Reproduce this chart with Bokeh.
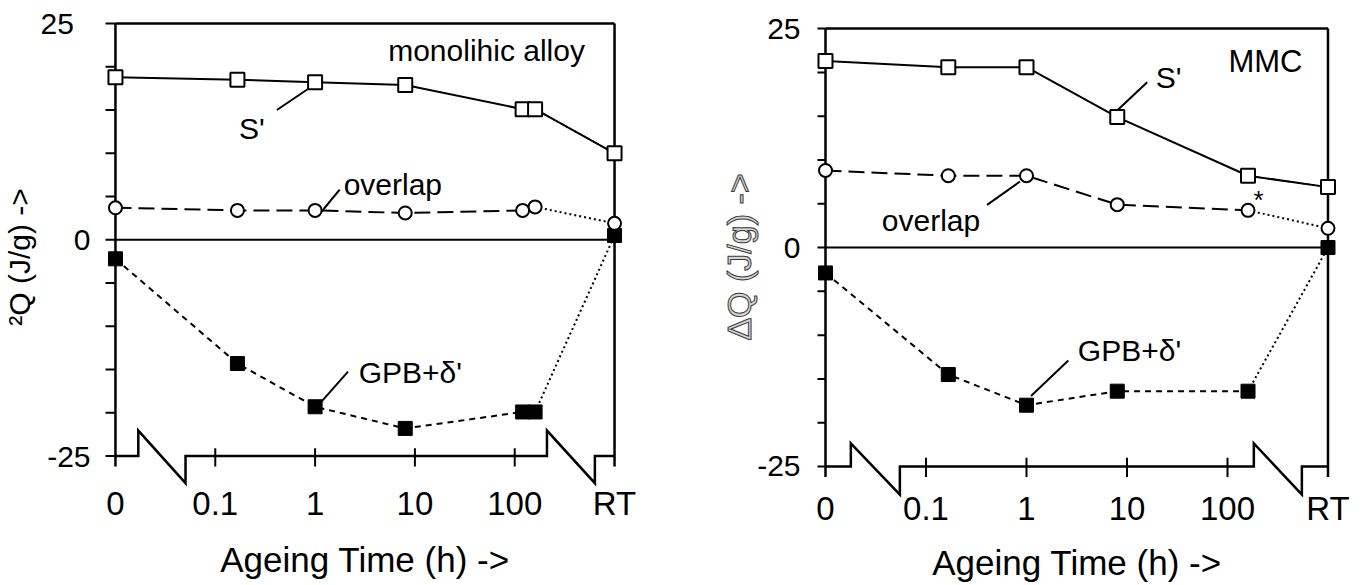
from bokeh.plotting import figure
from bokeh.layouts import row
from bokeh.models import FixedTicker, Range1d
from bokeh.embed import file_html
from bokeh.resources import INLINE
from bokeh.core.properties import value

FONT = "Liberation Sans"
NB = "\u00a0"

# ---- time axis: "0" and "RT" are placed on the log axis at 0.01 h and 1000 h ----
ZERO_H = 0.01
RT_H = 1000.0
tick_hours = [0.01, 0.1, 1, 10, 100, 1000]
tick_labels = ["0", "0.1", "1", "10", "100", "RT"]
y_ticks = [-25, 0, 25]
y_tick_labels_left = ["-25", "0", "25" + NB + NB]
y_tick_labels_right = ["-25", "0", "25"]
y_minor = [-25, -20, -15, -10, -5, 0, 5, 10, 15, 20, 25]

# ---- monolithic alloy (left) ----
time_left = [ZERO_H, 1 / 6, 1, 8, 120, 160, RT_H]
s_left = [18.8, 18.5, 18.2, 17.9, 15.1, 15.1, 10.0]
overlap_left = [3.7, 3.4, 3.4, 3.1, 3.4, 3.8, 1.9]
gpb_left = [-2.2, -14.3, -19.3, -21.8, -19.9, -19.9, 0.5]

# ---- MMC (right) ----
time_right = [ZERO_H, 1 / 6, 1, 8, 160, RT_H]
s_right = [21.3, 20.6, 20.6, 14.9, 8.2, 6.9]
overlap_right = [8.8, 8.2, 8.2, 4.9, 4.25, 2.2]
gpb_right = [-2.9, -14.5, -18.0, -16.4, -16.4, 0.0]


def dec(d):
    return 10.0 ** d


LEFT = dict(
    width=700, height=585, x0=-2.1198, x1=3.1198, y0=-29.786, y1=25.809,
    mb_left=101, mb_right=74, mb_top=16, mb_bottom=88,
    ytick_len=0.0998, tick_top=-24.1, tick_bot=-26.2,
    breaks=[(-1.771, -1.298), (2.323, 2.803)], brk_top=-22.05, brk_bot=-28.13,
    ylabel="²Q (J/g) ->", ylabel_size="30px", ylabel_hollow=False,
    ytick_labels=y_tick_labels_left,
    xtick_standoff=-13, xlabel_standoff=15, ylabel_standoff=1,
    texts=[("monolihic alloy", 1.718, 21.88, 30), ("S'", -0.633, 12.86, 30),
           ("overlap", 0.779, 6.39, 30), ("GPB+δ'", 0.954, -15.35, 30)],
    leaders=[(-0.383, 15.0, -0.064, 17.49), (0.066, 3.27, 0.246, 5.81),
             (0.046, -18.93, 0.330, -15.23)],
)

RIGHT = dict(
    width=668, height=585, x0=-2.1194, x1=3.1244, y0=-28.540, y1=26.382,
    mb_left=113, mb_right=28, mb_top=16, mb_bottom=88,
    ytick_len=0.08, tick_top=-24.0, tick_bot=-26.2,
    breaks=[(-1.748, -1.26), (2.262, 2.740)], brk_top=-22.37, brk_bot=-28.2,
    ylabel="ΔQ (J/g) ->", ylabel_size="34px", ylabel_hollow=True,
    ytick_labels=y_tick_labels_right,
    xtick_standoff=-8, xlabel_standoff=13, ylabel_standoff=-4,
    texts=[("MMC", 2.378, 21.19, 31), ("S'", 1.413, 19.47, 30), ("*", 2.308, 5.4, 26),
           ("overlap", -0.950, 3.09, 30), ("GPB+δ'", 1.025, -11.75, 30)],
    leaders=[(1.201, 18.88, 0.902, 15.65), (-0.392, 4.87, -0.065, 7.54),
             (0.416, -12.9, 0.045, -16.96)],
)


def make_panel(times, s_vals, ov_vals, gpb_vals, g):
    p = figure(width=g["width"], height=g["height"], x_axis_type="log",
               x_range=Range1d(dec(g["x0"]), dec(g["x1"])),
               y_range=Range1d(g["y0"], g["y1"]),
               output_backend="svg", toolbar_location=None, tools="",
               min_border_left=g["mb_left"], min_border_right=g["mb_right"],
               min_border_top=g["mb_top"], min_border_bottom=g["mb_bottom"])
    p.outline_line_color = None
    p.grid.visible = False
    p.background_fill_color = "white"
    p.border_fill_color = "white"

    for ax in (p.xaxis[0], p.yaxis[0]):
        ax.axis_line_color = None
        ax.major_tick_line_color = None
        ax.minor_tick_line_color = None
        ax.major_tick_out = 0
        ax.major_tick_in = 0
        ax.minor_tick_out = 0
        ax.minor_tick_in = 0
        ax.major_label_text_font = FONT
        ax.major_label_text_color = "black"
        ax.axis_label_text_font = FONT
        ax.axis_label_text_font_style = "normal"

    xa = p.xaxis[0]
    xa.ticker = FixedTicker(ticks=tick_hours, minor_ticks=[])
    xa.major_label_overrides = dict(zip(tick_hours, tick_labels))
    xa.major_label_standoff = g["xtick_standoff"]
    xa.major_label_text_font_size = "33px"
    xa.axis_label = "Ageing Time (h) ->"
    xa.axis_label_text_font_size = "35px"
    xa.axis_label_text_color = "black"
    xa.axis_label_standoff = g["xlabel_standoff"]

    ya = p.yaxis[0]
    ya.ticker = FixedTicker(ticks=y_ticks, minor_ticks=[])
    ya.major_label_overrides = dict(zip(y_ticks, g["ytick_labels"]))
    ya.major_label_standoff = 13
    ya.major_label_text_font_size = "30px"
    ya.axis_label = g["ylabel"]
    ya.axis_label_text_font_size = g["ylabel_size"]
    ya.axis_label_standoff = g["ylabel_standoff"]
    ya.axis_label_text_color = "black"
    if g["ylabel_hollow"]:
        try:
            ya.axis_label_text_outline_color = "#3a3a3a"
            ya.axis_label_text_color = "#d4d4d4"
        except AttributeError:
            ya.axis_label_text_color = "#808080"

    lw_ax = 2.5
    # frame: left axis, top border, right border, zero line
    p.line([ZERO_H, ZERO_H], [25, g["tick_bot"]], line_color="black", line_width=lw_ax)
    p.line([ZERO_H, RT_H], [25, 25], line_color="black", line_width=lw_ax)
    p.line([RT_H, RT_H], [25, g["tick_bot"]], line_color="black", line_width=lw_ax)
    p.line([ZERO_H, RT_H], [0, 0], line_color="black", line_width=2)

    # y ticks (pointing outward)
    p.segment(x0=[dec(-2 - g["ytick_len"])] * len(y_minor), y0=y_minor,
              x1=[ZERO_H] * len(y_minor), y1=y_minor, line_color="black", line_width=2)

    # broken time axis
    (a1, b1), (a2, b2) = g["breaks"]
    yb = y_ticks[0]
    bx = [ZERO_H, dec(a1), dec(a1), dec(b1), dec(b1), dec(a2), dec(a2), dec(b2), dec(b2), RT_H]
    by = [yb, yb, g["brk_top"], g["brk_bot"], yb, yb, g["brk_top"], g["brk_bot"], yb, yb]
    p.line(bx, by, line_color="black", line_width=lw_ax, line_join="miter")
    inner = tick_hours[1:-1]
    p.segment(x0=inner, y0=[g["tick_top"]] * len(inner), x1=inner,
              y1=[g["tick_bot"]] * len(inner), line_color="black", line_width=2)

    # GPB + delta'
    p.line(times[:-1], gpb_vals[:-1], line_color="black", line_width=2, line_dash="6 5")
    p.line(times[-2:], gpb_vals[-2:], line_color="black", line_width=2, line_dash="2 3")
    p.scatter(times, gpb_vals, marker="square", size=14, fill_color="black",
              line_color="black", line_width=1)

    # overlap
    p.line(times[:-1], ov_vals[:-1], line_color="black", line_width=2, line_dash="16 7")
    p.line(times[-2:], ov_vals[-2:], line_color="black", line_width=2, line_dash="2 3")
    p.scatter(times, ov_vals, marker="circle", size=13, fill_color="white",
              line_color="black", line_width=2)

    # S'
    p.line(times, s_vals, line_color="black", line_width=2)
    p.line(times[-2:], s_vals[-2:], line_color="black", line_width=1.5, line_dash="2 3")
    p.scatter(times, s_vals, marker="square", size=14, fill_color="white",
              line_color="black", line_width=2)

    # leaders and labels
    for (xa0, ya0, xa1, ya1) in g["leaders"]:
        p.line([dec(xa0), dec(xa1)], [ya0, ya1], line_color="black", line_width=2)
    for (txt, tx, ty, fs) in g["texts"]:
        p.text(x=[dec(tx)], y=[ty], text=[txt], text_font=value(FONT),
               text_font_size=value(f"{fs}px"), text_align="center",
               text_baseline="middle", text_color="black")
    return p


p1 = make_panel(time_left, s_left, overlap_left, gpb_left, LEFT)
p2 = make_panel(time_right, s_right, overlap_right, gpb_right, RIGHT)
layout = row(p1, p2)

with open("out.html", "w") as f:
    f.write(file_html(layout, INLINE))
